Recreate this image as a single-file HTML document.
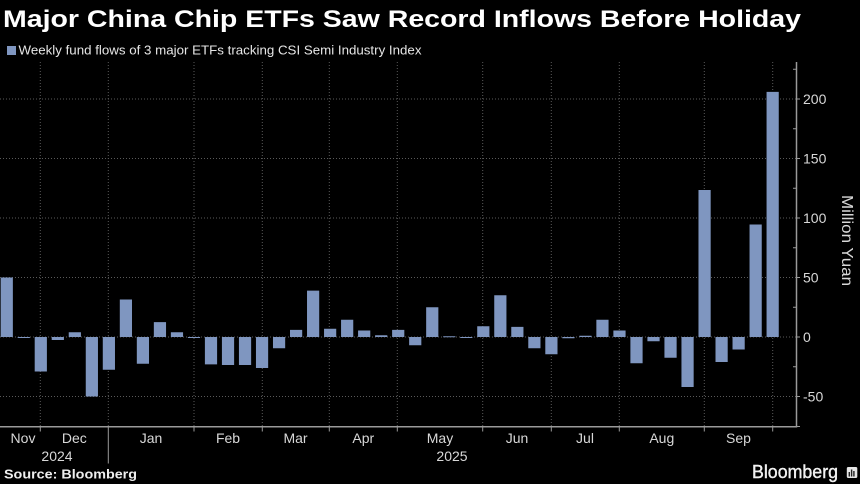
<!DOCTYPE html>
<html><head><meta charset="utf-8"><style>
html,body{margin:0;padding:0;background:#000;}
svg{display:block;}
</style></head><body>
<svg width="860" height="484" viewBox="0 0 860 484" xmlns="http://www.w3.org/2000/svg" font-family="Liberation Sans, sans-serif">
<rect width="860" height="484" fill="#000"/>
<text x="3" y="27" font-size="24" font-weight="bold" fill="#fff" textLength="798" lengthAdjust="spacingAndGlyphs">Major China Chip ETFs Saw Record Inflows Before Holiday</text>
<rect x="7" y="46" width="9" height="9" fill="#7f96c0"/>
<text x="18.5" y="54.5" font-size="12.5" fill="#e6e6e6" textLength="403" lengthAdjust="spacingAndGlyphs">Weekly fund flows of 3 major ETFs tracking CSI Semi Industry Index</text>
<path stroke="#5a5a5a" stroke-width="1" stroke-dasharray="1 2" fill="none" d="M0 99H796M0 158.5H796M0 218H796M0 277.5H796M0 337H796M0 396.5H796M40.3 62V427M108.3 62V427M194 62V427M262.3 62V427M329.3 62V427M397.3 62V427M482.7 62V427M551.3 62V427M619.3 62V427M704.3 62V427M772.7 62V427"/>
<path fill="#7f96c0" d="M0.66 277.5h12.2v59.5h-12.2z M17.68 337h12.2v1h-12.2z M34.7 337h12.2v34.5h-12.2z M51.72 337h12.2v3h-12.2z M68.74 332.2h12.2v4.8h-12.2z M85.76 337h12.2v59.5h-12.2z M102.78 337h12.2v32.7h-12.2z M119.8 299.5h12.2v37.5h-12.2z M136.82 337h12.2v26.8h-12.2z M153.84 322.1h12.2v14.9h-12.2z M170.86 332.2h12.2v4.8h-12.2z M187.88 337h12.2v1h-12.2z M204.9 337h12.2v27.4h-12.2z M221.92 337h12.2v28h-12.2z M238.94 337h12.2v28h-12.2z M255.96 337h12.2v31h-12.2z M272.98 337h12.2v11.3h-12.2z M290 329.9h12.2v7.1h-12.2z M307.02 290.6h12.2v46.4h-12.2z M324.04 328.7h12.2v8.3h-12.2z M341.06 319.7h12.2v17.3h-12.2z M358.08 330.5h12.2v6.5h-12.2z M375.1 335.2h12.2v1.8h-12.2z M392.12 329.9h12.2v7.1h-12.2z M409.14 337h12.2v8.3h-12.2z M426.16 307.2h12.2v29.8h-12.2z M443.18 336.3h12.2v1h-12.2z M460.2 337h12.2v1h-12.2z M477.22 326.3h12.2v10.7h-12.2z M494.24 295.3h12.2v41.7h-12.2z M511.26 326.9h12.2v10.1h-12.2z M528.28 337h12.2v11.3h-12.2z M545.3 337h12.2v17.3h-12.2z M562.32 337h12.2v1.2h-12.2z M579.34 335.8h12.2v1.2h-12.2z M596.36 319.7h12.2v17.3h-12.2z M613.38 330.5h12.2v6.5h-12.2z M630.4 337h12.2v26.2h-12.2z M647.42 337h12.2v4.2h-12.2z M664.44 337h12.2v20.8h-12.2z M681.46 337h12.2v50h-12.2z M698.48 190h12.2v147h-12.2z M715.5 337h12.2v25h-12.2z M732.52 337h12.2v12.5h-12.2z M749.54 224.5h12.2v112.5h-12.2z M766.56 91.9h12.2v245.1h-12.2z"/>
<path stroke="#9a9a9a" stroke-width="1.5" fill="none" d="M0 426.8H797M796.5 62V427.5"/>
<path stroke="#9a9a9a" stroke-width="1" fill="none" d="M796 99h4M796 158.5h4M796 218h4M796 277.5h4M796 337h4M796 396.5h4M796 426.5h4M793 69.3h3M793 128.8h3M793 188.3h3M793 247.8h3M793 307.3h3M793 366.8h3M40.3 427v4.5M108.3 427v36.5M194 427v4.5M262.3 427v4.5M329.3 427v4.5M397.3 427v4.5M482.7 427v4.5M551.3 427v4.5M619.3 427v4.5M704.3 427v4.5M772.7 427v4.5"/>
<g font-size="14" fill="#d8d8d8">
<text x="803" y="104">200</text>
<text x="803" y="163.5">150</text>
<text x="803" y="223">100</text>
<text x="803" y="282.5">50</text>
<text x="803" y="342">0</text>
<text x="803" y="401.5">-50</text>
</g>
<text transform="translate(842,240.5) rotate(90)" text-anchor="middle" font-size="16" fill="#d8d8d8" textLength="91" lengthAdjust="spacingAndGlyphs">Million Yuan</text>
<g font-size="14" fill="#d8d8d8" text-anchor="middle">
<text x="23" y="443">Nov</text>
<text x="74.3" y="443">Dec</text>
<text x="151" y="443">Jan</text>
<text x="228" y="443">Feb</text>
<text x="295.5" y="443">Mar</text>
<text x="363.3" y="443">Apr</text>
<text x="440" y="443">May</text>
<text x="517" y="443">Jun</text>
<text x="585" y="443">Jul</text>
<text x="661.8" y="443">Aug</text>
<text x="738.5" y="443">Sep</text>
<text x="57" y="461">2024</text>
<text x="452" y="461">2025</text>
</g>
<text x="4" y="478.5" font-size="13" font-weight="bold" fill="#eeeeee" textLength="133" lengthAdjust="spacingAndGlyphs">Source: Bloomberg</text>
<text x="752" y="478" font-size="18" fill="#f2f2f2" stroke="#f2f2f2" stroke-width="0.4" textLength="86" lengthAdjust="spacingAndGlyphs">Bloomberg</text>
<rect x="846.8" y="467" width="10.5" height="11" rx="1.5" fill="#e6e6e6"/>
<path fill="#222" d="M848.6 472h1.4v4.5h-1.4z M850.9 469.5h1.4v7h-1.4z M853.2 471h1.4v5.5h-1.4z"/>
</svg>
</body></html>
